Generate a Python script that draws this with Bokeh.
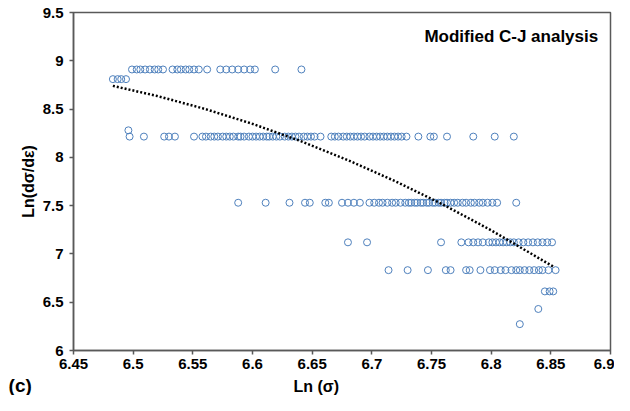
from bokeh.plotting import figure
from bokeh.layouts import column
from bokeh.models import Range1d, Label, FixedTicker, NumeralTickFormatter
from bokeh.core.properties import value
from bokeh.embed import file_html
from bokeh.resources import INLINE

# ---------------- data ----------------
x_ticks = [6.45, 6.5, 6.55, 6.6, 6.65, 6.7, 6.75, 6.8, 6.85, 6.9]
y_ticks = [6, 6.5, 7, 7.5, 8, 8.5, 9, 9.5]

row_891_y = 8.91
row_891_x = [6.499, 6.503, 6.506, 6.510, 6.514, 6.518, 6.521, 6.525, 6.533, 6.537,
             6.540, 6.544, 6.547, 6.551, 6.555, 6.562, 6.573, 6.578, 6.583, 6.588,
             6.593, 6.598, 6.602, 6.619, 6.641]

row_881_y = 8.81
row_881_x = [6.483, 6.487, 6.490, 6.494]

row_828_y = 8.28
row_828_x = [6.496]

row_822_y = 8.215
row_822_x = [6.497, 6.509, 6.526, 6.530, 6.535, 6.551, 6.558, 6.561, 6.565, 6.568,
             6.571, 6.575, 6.578, 6.581, 6.584, 6.588, 6.590, 6.593, 6.597, 6.600,
             6.603, 6.606, 6.609, 6.612, 6.614, 6.617, 6.620, 6.623, 6.627, 6.630,
             6.633, 6.636, 6.639, 6.643, 6.646, 6.649, 6.652, 6.657, 6.666, 6.669,
             6.672, 6.676, 6.679, 6.682, 6.685, 6.688, 6.691, 6.694, 6.698, 6.701,
             6.704, 6.707, 6.710, 6.713, 6.716, 6.719, 6.722, 6.725, 6.729, 6.739,
             6.749, 6.752, 6.763, 6.785, 6.803, 6.819]

row_753_y = 7.53
row_753_x = [6.588, 6.611, 6.631, 6.644, 6.648, 6.661, 6.664, 6.675, 6.680, 6.685,
             6.690, 6.698, 6.702, 6.706, 6.709, 6.713, 6.717, 6.720, 6.724, 6.728,
             6.731, 6.733, 6.736, 6.738, 6.741, 6.743, 6.746, 6.748, 6.751, 6.753,
             6.756, 6.758, 6.761, 6.763, 6.766, 6.769, 6.772, 6.776, 6.779, 6.783,
             6.786, 6.790, 6.793, 6.797, 6.801, 6.805, 6.821]

row_712_y = 7.12
row_712_x = [6.680, 6.696, 6.758, 6.775, 6.781, 6.785, 6.789, 6.793, 6.798, 6.801,
             6.804, 6.807, 6.810, 6.813, 6.816, 6.819, 6.823, 6.827, 6.831, 6.835,
             6.839, 6.843, 6.847, 6.851]

row_683_y = 6.832
row_683_x = [6.714, 6.730, 6.747, 6.762, 6.766, 6.779, 6.782, 6.791, 6.799, 6.803,
             6.808, 6.812, 6.817, 6.821, 6.824, 6.828, 6.832, 6.836, 6.840, 6.843,
             6.848, 6.854]

row_661_y = 6.612
row_661_x = [6.845, 6.849, 6.852]

row_643_y = 6.43
row_643_x = [6.8395]

row_627_y = 6.273
row_627_x = [6.824]

trend_x = [6.483, 6.52, 6.56, 6.60, 6.64, 6.68, 6.72, 6.76, 6.80, 6.853]
trend_y = [8.740, 8.636, 8.502, 8.347, 8.170, 7.971, 7.751, 7.509, 7.245, 6.862]

rows = [(row_891_x, row_891_y), (row_881_x, row_881_y), (row_828_x, row_828_y),
        (row_822_x, row_822_y), (row_753_x, row_753_y), (row_712_x, row_712_y),
        (row_683_x, row_683_y), (row_661_x, row_661_y), (row_643_x, row_643_y),
        (row_627_x, row_627_y)]

xs, ys = [], []
for rx, ry in rows:
    xs += rx
    ys += [ry] * len(rx)

# ---------------- figure ----------------
FONT = "Liberation Sans"
AX = "#595959"

X0, X1 = 6.45, 6.9
LEFT, RIGHT, FRAME_W = 73, 4, 537
PX_PER_UNIT = FRAME_W / (X1 - X0)

p = figure(width=614, height=374, output_backend="svg", toolbar_location=None,
           x_range=Range1d(X0, X1), y_range=Range1d(6, 9.5),
           min_border_left=LEFT, min_border_right=RIGHT, min_border_top=12,
           min_border_bottom=24, background_fill_color="white",
           border_fill_color="white")
p.frame_align = False

p.grid.visible = False
p.outline_line_color = AX
p.outline_line_width = 1.5

p.xaxis.ticker = FixedTicker(ticks=x_ticks)
p.yaxis.ticker = FixedTicker(ticks=y_ticks)
p.xaxis.formatter = NumeralTickFormatter(format="0.[00]")
p.yaxis.formatter = NumeralTickFormatter(format="0.[0]")

for ax in (p.xaxis, p.yaxis):
    ax.axis_line_color = AX
    ax.axis_line_width = 1.5
    ax.major_tick_line_color = AX
    ax.major_tick_line_width = 1.5
    ax.major_tick_out = 4
    ax.major_tick_in = 0
    ax.minor_tick_line_color = None
    ax.major_label_text_font = FONT
    ax.major_label_text_font_style = "bold"
    ax.major_label_text_font_size = "15px"
    ax.major_label_text_color = "black"

p.xaxis.major_label_standoff = 4
p.yaxis.major_label_standoff = 6

p.yaxis.axis_label = "Ln(dσ/dε)"
p.yaxis.axis_label_text_font = FONT
p.yaxis.axis_label_text_font_style = "bold"
p.yaxis.axis_label_text_font_size = "16px"
p.yaxis.axis_label_text_color = "black"
p.yaxis.axis_label_standoff = 3

p.scatter(xs, ys, marker="circle", size=7, fill_color=None,
          line_color="#4F81BD", line_width=1)

p.line(trend_x, trend_y, line_color="black", line_width=2.5, line_dash="2 2")

p.add_layout(Label(x=6.8897, y=9.252, text="Modified C-J analysis",
                   text_align="right", text_baseline="alphabetic",
                   text_font=FONT, text_font_style="bold",
                   text_font_size="17px", text_color="black"))

# bottom strip carrying the x-axis title and panel letter
p2 = figure(width=614, height=21, output_backend="svg", toolbar_location=None,
            x_range=Range1d(X0 - LEFT / PX_PER_UNIT, X1 + RIGHT / PX_PER_UNIT),
            y_range=Range1d(0, 21), min_border=0,
            x_axis_location=None, y_axis_location=None,
            background_fill_color="white", border_fill_color="white")
p2.frame_align = False
p2.grid.visible = False
p2.outline_line_color = None

p2.text(x=[6.6535], y=[9.5], text=["Ln (σ)"], text_align="center",
        text_baseline="middle", text_font=value(FONT), text_font_style="bold",
        text_font_size="16px", text_color="black")
p2.text(x=[6.3956], y=[9.8], text=["(c)"], text_align="left",
        text_baseline="middle", text_font=value(FONT), text_font_style="bold",
        text_font_size="19px", text_color="black")

layout = column(p, p2, spacing=0)

open("out.html", "w").write(file_html(layout, INLINE))
